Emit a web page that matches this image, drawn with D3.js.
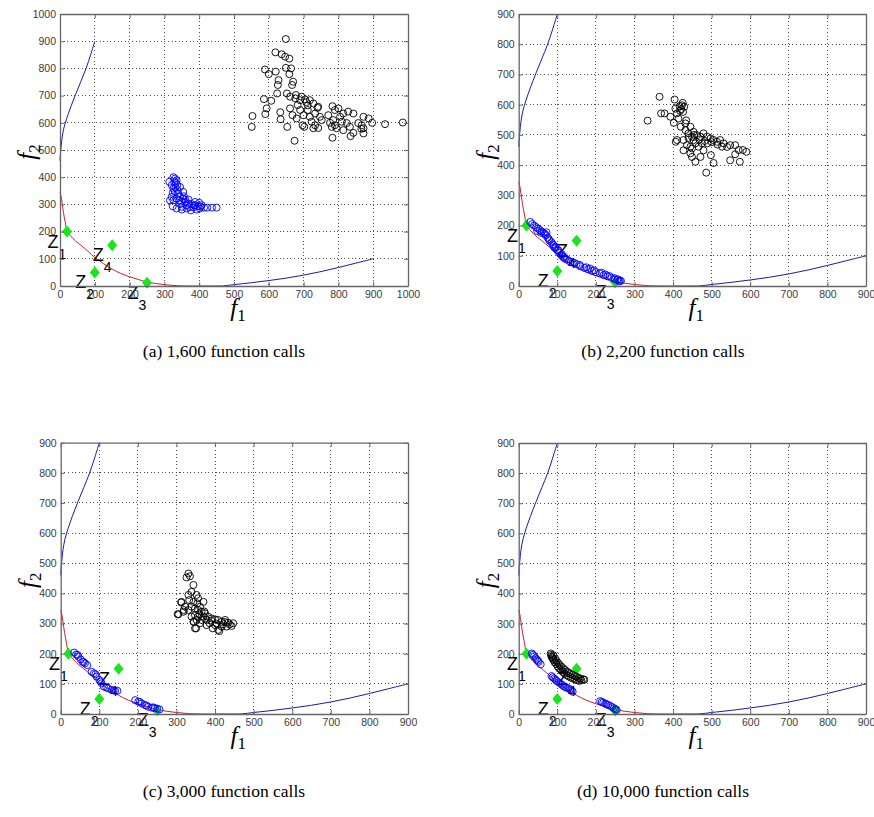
<!DOCTYPE html>
<html>
<head>
<meta charset="utf-8">
<script src="https://cdn.jsdelivr.net/npm/d3@7"></script>
<style>
  body { margin: 0; background: #fff; }
  svg { display: block; }
</style>
</head>
<body>
<svg id="fig" width="874" height="817"></svg>
<script>
// ---------------- data ----------------
const ticks1000 = [0, 100, 200, 300, 400, 500, 600, 700, 800, 900, 1000];
const ticks900 = [0, 100, 200, 300, 400, 500, 600, 700, 800, 900];

// reference points Z1..Z4
const refPoints = [[20, 200], [100, 50], [250, 12], [150, 150]];
const refIndex = ["1", "2", "3", "4"];

// Pareto front (red) and the two boundary arcs (blue)
const frontCurve = [[0, 345], [3, 330], [6, 305], [10, 270], [15, 235], [20, 205], [30, 185], [45, 165],
  [60, 150], [80, 128], [100, 105], [125, 82], [150, 62], [175, 46], [200, 34], [225, 24], [250, 15],
  [275, 9], [300, 5], [325, 2], [350, 0.5], [400, 0]];
const lowerArc = [[400, 0], [450, 0], [470, 0.5], [500, 5], [550, 12], [600, 20], [650, 29], [700, 40],
  [750, 53], [800, 68], [850, 84], [900, 100]];
const upperArc = [[0, 460], [1, 480], [3, 510], [6, 545], [11, 580], [19, 615], [30, 655], [45, 705],
  [60, 752], [75, 800], [88, 850], [100, 900]];

const captions = ["(a) 1,600 function calls", "(b) 2,200 function calls",
  "(c) 3,000 function calls", "(d) 10,000 function calls"];

// (a) 1,600 function calls
const blackA = [[649, 908], [619, 859], [637, 852], [647, 843], [659, 836], [589, 796], [600, 779], [620, 788],
  [649, 802], [664, 800], [659, 779], [628, 757], [626, 739], [670, 751], [667, 739], [624, 708], [652, 708],
  [586, 687], [607, 681], [594, 653], [590, 632], [633, 639], [634, 613], [653, 585], [674, 534], [553, 625],
  [551, 585], [661, 696], [678, 702], [690, 683], [694, 696], [704, 686], [718, 683], [728, 671], [742, 659],
  [661, 653], [668, 628], [690, 647], [700, 628], [712, 647], [718, 622], [733, 634], [747, 622], [733, 591],
  [742, 581], [752, 610], [697, 591], [702, 585], [680, 616], [723, 604], [728, 580], [783, 661], [790, 647],
  [800, 653], [814, 634], [828, 641], [843, 634], [771, 628], [785, 610], [805, 622], [790, 591], [781, 585],
  [795, 580], [776, 600], [810, 604], [824, 599], [833, 585], [814, 573], [783, 545], [835, 551], [843, 563],
  [857, 599], [867, 591], [872, 622], [887, 616], [872, 580], [872, 561], [897, 600], [934, 595], [985, 601],
  [866, 578], [676, 690], [708, 676], [740, 655], [683, 665], [712, 664]];
const blueA = [[326, 400], [330, 395], [335, 389], [314, 383], [321, 371], [326, 358], [330, 346], [321, 328],
  [326, 315], [335, 321], [345, 328], [354, 321], [359, 309], [369, 303], [378, 301], [388, 297], [397, 293],
  [407, 297], [400, 306], [383, 289], [364, 285], [350, 281], [335, 285], [324, 293], [345, 301], [354, 346],
  [340, 340], [345, 364], [333, 379], [423, 288], [437, 288], [450, 288], [393, 281], [376, 278], [364, 297],
  [350, 291], [414, 288], [328, 383], [337, 371], [324, 343], [342, 315], [356, 330], [369, 318], [388, 309],
  [402, 285], [316, 315], [332, 362], [338, 352], [348, 310], [360, 318], [372, 290], [386, 296], [404, 292]];

// (b) 2,200 function calls
const blackB = [[334, 547], [365, 626], [369, 571], [378, 571], [393, 560], [404, 617], [406, 587], [410, 571],
  [417, 595], [423, 598], [429, 593], [426, 576], [414, 554], [402, 540], [434, 548], [407, 477], [445, 527],
  [432, 516], [440, 505], [453, 510], [462, 499], [471, 494], [479, 505], [488, 494], [497, 488], [505, 483],
  [514, 477], [522, 483], [531, 472], [540, 460], [548, 466], [561, 466], [570, 450], [581, 450], [590, 444],
  [427, 483], [436, 466], [445, 439], [449, 427], [458, 411], [445, 461], [466, 461], [475, 472], [486, 375],
  [498, 433], [505, 407], [479, 449], [453, 483], [489, 472], [527, 461], [548, 416], [573, 411], [561, 436],
  [471, 427], [432, 538], [420, 527], [449, 494], [458, 472], [410, 483], [427, 449], [449, 455], [421, 585],
  [425, 606], [418, 580], [440, 490], [455, 500], [468, 485], [482, 480], [500, 476], [515, 468]];
const blueB = [[30, 212], [35, 205], [40, 200], [45, 195], [50, 190], [55, 185], [60, 180], [65, 175],
  [70, 168], [75, 160], [78, 155], [85, 145], [90, 135], [95, 125], [100, 118], [105, 110], [110, 102],
  [115, 95], [120, 90], [130, 83], [140, 77], [150, 72], [160, 65], [170, 60], [180, 55], [190, 50],
  [200, 46], [210, 42], [220, 36], [230, 32], [240, 27], [250, 22], [255, 20], [262, 18], [265, 17],
  [48, 182], [58, 176], [68, 172], [80, 150], [88, 138], [96, 130], [103, 118], [112, 105], [125, 88],
  [135, 80], [145, 76], [158, 70], [175, 62], [195, 52], [215, 44], [235, 33], [258, 22], [72, 178],
  [92, 128], [118, 96], [185, 58], [225, 38], [248, 26], [260, 15]];

// (c) 3,000 function calls
const blackC = [[331, 466], [335, 457], [326, 453], [344, 428], [339, 405], [331, 395], [352, 395], [333, 378],
  [344, 372], [354, 367], [313, 372], [322, 356], [305, 331], [318, 339], [331, 345], [339, 356], [348, 350],
  [356, 345], [361, 356], [365, 339], [374, 334], [370, 323], [382, 323], [391, 317], [400, 314], [408, 312],
  [417, 306], [426, 312], [434, 303], [447, 301], [443, 292], [430, 290], [417, 290], [408, 279], [394, 284],
  [378, 295], [361, 301], [348, 284], [344, 306], [352, 312], [339, 323], [348, 328], [356, 323], [386, 301],
  [400, 295], [421, 298], [365, 312], [378, 312], [370, 372], [356, 384], [312, 370], [303, 331], [319, 345],
  [345, 306], [351, 284], [411, 275], [360, 330], [372, 340], [390, 310], [404, 300], [425, 305], [438, 297]];
const blueC = [[35, 204], [40, 197], [46, 190], [52, 181], [57, 173], [63, 168], [69, 162], [44, 196],
  [60, 172], [80, 140], [86, 135], [93, 124], [100, 113], [106, 102], [112, 91], [123, 85], [132, 80],
  [141, 77], [147, 77], [90, 132], [103, 108], [118, 88], [137, 78], [193, 46], [201, 41], [210, 35],
  [218, 30], [227, 24], [236, 21], [244, 19], [256, 15], [205, 40], [222, 28], [240, 22], [250, 18]];

// (d) 10,000 function calls
const blackD = [[83, 201], [85, 190], [90, 179], [97, 166], [105, 151], [114, 140], [124, 129], [135, 121],
  [146, 115], [157, 110], [167, 115], [84, 196], [88, 184], [93, 172], [101, 158], [110, 145], [119, 134],
  [129, 125], [140, 118], [151, 112], [162, 112], [170, 114], [90, 195], [95, 183], [102, 170], [110, 158],
  [120, 147], [130, 137], [140, 130], [150, 124], [160, 118], [87, 188], [98, 176], [106, 163], [115, 152],
  [125, 141], [135, 133], [145, 126], [155, 120]];
const blueD = [[34, 201], [40, 192], [47, 181], [52, 173], [57, 165], [37, 197], [44, 186], [50, 177],
  [85, 126], [92, 118], [98, 110], [107, 102], [116, 93], [124, 87], [133, 82], [140, 74], [88, 122],
  [95, 114], [103, 106], [112, 97], [120, 90], [129, 85], [137, 78], [211, 43], [219, 38], [228, 32],
  [237, 27], [247, 19], [254, 13], [215, 40], [224, 35], [232, 30], [242, 23], [251, 16]];

// ---------------- layout ----------------
const panels = [
  { ticks: ticks1000, black: blackA, blue: blueA, caption: captions[0], box: { l: 60, r: 408, t: 14, b: 286 }, cap: [224, 357] },
  { ticks: ticks900, black: blackB, blue: blueB, caption: captions[1], box: { l: 518.7, r: 866, t: 14, b: 286 }, cap: [663, 357] },
  { ticks: ticks900, black: blackC, blue: blueC, caption: captions[2], box: { l: 60.7, r: 408, t: 442.7, b: 714 }, cap: [224, 797] },
  { ticks: ticks900, black: blackD, blue: blueD, caption: captions[3], box: { l: 518.7, r: 866, t: 443, b: 714 }, cap: [663, 797] }
];

const svg = d3.select("#fig");
const sansFont = "'Liberation Sans', Arial, sans-serif";
const serifFont = "'Liberation Serif', 'Times New Roman', serif";

panels.forEach(p => {
  const { l, r, t, b } = p.box;
  const max = d3.max(p.ticks);
  const x = d3.scaleLinear().domain([0, max]).range([l, r]);
  const y = d3.scaleLinear().domain([0, max]).range([b, t]);
  const g = svg.append("g");

  // dotted grid
  const grid = g.append("g");
  grid.selectAll(".gx").data(p.ticks.slice(1, -1)).join("line")
    .attr("x1", d => x(d)).attr("x2", d => x(d)).attr("y1", t).attr("y2", b);
  grid.selectAll(".gy").data(p.ticks.slice(1, -1)).join("line")
    .attr("class", "gy")
    .attr("y1", d => y(d)).attr("y2", d => y(d)).attr("x1", l).attr("x2", r);
  grid.selectAll("line").attr("stroke", "#222").attr("stroke-width", 0.8)
    .attr("stroke-dasharray", "1,2.6").attr("shape-rendering", "crispEdges");

  // boundary curves
  const smooth = d3.line().x(d => x(d[0])).y(d => y(d[1])).curve(d3.curveCatmullRom);
  g.append("path").attr("d", smooth(upperArc)).attr("fill", "none").attr("stroke", "#1a1aa8").attr("stroke-width", 1);
  g.append("path").attr("d", smooth(lowerArc)).attr("fill", "none").attr("stroke", "#1a1aa8").attr("stroke-width", 1);
  g.append("path").attr("d", smooth(frontCurve))
    .attr("fill", "none").attr("stroke", "#c8202a").attr("stroke-width", 1);

  // reference points
  g.selectAll(".ref").data(refPoints).join("path")
    .attr("d", d => {
      const cx = x(d[0]), cy = y(d[1]);
      return `M${cx},${cy - 6}L${cx + 5},${cy}L${cx},${cy + 6}L${cx - 5},${cy}Z`;
    })
    .attr("fill", "#19e619");

  // reference labels
  refPoints.forEach((d, i) => {
    const tx = g.append("text")
      .attr("x", x(d[0]) - 19.5).attr("y", y(d[1]) + 16)
      .attr("font-family", sansFont).attr("fill", "#000");
    tx.append("tspan").attr("font-size", 18).text("Z");
    tx.append("tspan").attr("font-size", 14).attr("dy", 11).text(refIndex[i]);
  });

  // population markers
  g.selectAll(".pb").data(p.black).join("circle")
    .attr("cx", d => x(d[0])).attr("cy", d => y(d[1])).attr("r", 3.5)
    .attr("fill", "none").attr("stroke", "#000").attr("stroke-width", 0.9);
  g.selectAll(".pu").data(p.blue).join("circle")
    .attr("cx", d => x(d[0])).attr("cy", d => y(d[1])).attr("r", 3.5)
    .attr("fill", "none").attr("stroke", "#0000ff").attr("stroke-width", 0.9);

  // axes: box with inward ticks on all four sides
  const axisColor = "#666";
  const fmt = d3.format("d");
  const mk = (axis, tr, labels) => {
    const a = g.append("g").attr("transform", tr).call(axis);
    a.select(".domain").attr("stroke", axisColor).attr("stroke-width", 1.3);
    a.selectAll(".tick line").attr("stroke", axisColor);
    a.selectAll(".tick text").attr("font-family", sansFont).attr("font-size", 10.5)
      .attr("fill", "#3a3a3a");
    if (!labels) a.selectAll(".tick text").remove();
    return a;
  };
  mk(d3.axisBottom(x).tickValues(p.ticks).tickFormat(fmt).tickSize(-4).tickPadding(5).tickSizeOuter(0), `translate(0,${b})`, true);
  mk(d3.axisTop(x).tickValues(p.ticks).tickSize(-4).tickSizeOuter(0), `translate(0,${t})`, false);
  mk(d3.axisLeft(y).tickValues(p.ticks).tickFormat(fmt).tickSize(-4).tickPadding(4).tickSizeOuter(0), `translate(${l},0)`, true);
  mk(d3.axisRight(y).tickValues(p.ticks).tickSize(-4).tickSizeOuter(0), `translate(${r},0)`, false);

  // axis titles
  const fx = g.append("text").attr("x", (l + r) / 2 + 4).attr("y", b + 30)
    .attr("text-anchor", "middle").attr("font-family", serifFont).attr("fill", "#000");
  fx.append("tspan").attr("font-size", 25).attr("font-style", "italic").text("f");
  fx.append("tspan").attr("font-size", 17).attr("dy", 5).text("1");

  const fy = g.append("text")
    .attr("transform", `translate(${l - 25},${(t + b) / 2 + 2}) rotate(-90)`)
    .attr("text-anchor", "middle").attr("font-family", serifFont).attr("fill", "#000");
  fy.append("tspan").attr("font-size", 25).attr("font-style", "italic").text("f");
  fy.append("tspan").attr("font-size", 17).attr("dy", 5).text("2");

  // caption
  svg.append("text").attr("x", p.cap[0]).attr("y", p.cap[1])
    .attr("text-anchor", "middle").attr("font-family", serifFont).attr("font-size", 17.5)
    .attr("fill", "#000").text(p.caption);
});
</script>
</body>
</html>
